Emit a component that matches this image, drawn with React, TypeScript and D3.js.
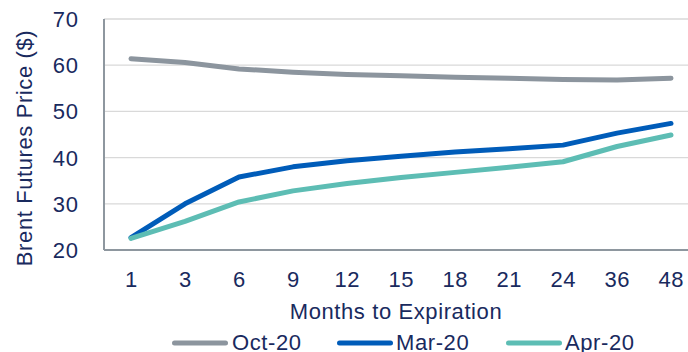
import React from "react";
import * as d3 from "d3";

const categories = ["1", "3", "6", "9", "12", "15", "18", "21", "24", "36", "48"];
const oct20 = [61.4, 60.6, 59.2, 58.5, 58.0, 57.7, 57.4, 57.2, 56.9, 56.8, 57.2];
const mar20 = [22.7, 30.0, 35.8, 38.0, 39.3, 40.3, 41.2, 41.9, 42.7, 45.3, 47.4];
const apr20 = [22.5, 26.2, 30.4, 32.8, 34.4, 35.7, 36.8, 37.9, 39.1, 42.4, 44.9];
const yTicks = [20, 30, 40, 50, 60, 70];
const seriesNames = ["Oct-20", "Mar-20", "Apr-20"];
const seriesColors = ["#8C959E", "#005CB9", "#5DBDB4"];

const W = 688;
const H = 352;
const left = 104;
const top = 19;
const bottom = 250;
const right = 698;
const textColor = "#192A5E";
const font = "'Liberation Sans', Arial, sans-serif";
const fs = 22;
const ls = 0.6;

export default function App() {
  const x = d3.scaleBand<string>().domain(categories).range([left, right]);
  const y = d3.scaleLinear().domain([20, 70]).range([bottom, top]);
  const series = [oct20, mar20, apr20];
  const line = d3
    .line<number>()
    .x((_, i) => (x(categories[i]) as number) + x.bandwidth() / 2)
    .y((d) => y(d));

  const legendX = [172, 337, 506];
  const legendText = [232, 396, 565];

  return (
    <svg
      width={W}
      height={H}
      style={{ position: "absolute", left: 0, top: 0, display: "block" }}
      fontFamily={font}
      letterSpacing={ls}
    >
      <rect width={W} height={H} fill="#fff" />
      {yTicks.slice(1).map((t) => (
        <line key={t} x1={left} x2={right} y1={y(t)} y2={y(t)} stroke="#D9D9D9" strokeWidth={1.3} />
      ))}
      <line x1={left} x2={left} y1={top} y2={bottom} stroke="#8E979F" strokeWidth={2} />
      <line x1={left} x2={right} y1={bottom} y2={bottom} stroke="#8E979F" strokeWidth={2} />
      {yTicks.map((t) => (
        <text
          key={t}
          x={78.5}
          y={y(t) + 0.5}
          textAnchor="end"
          dominantBaseline="central"
          fontSize={fs}
          fill={textColor}
        >
          {t}
        </text>
      ))}
      {categories.map((c) => (
        <text
          key={c}
          x={(x(c) as number) + x.bandwidth() / 2 + ls / 2}
          y={279.5}
          textAnchor="middle"
          dominantBaseline="central"
          fontSize={fs}
          fill={textColor}
        >
          {c}
        </text>
      ))}
      <text
        x={396}
        y={311}
        textAnchor="middle"
        dominantBaseline="central"
        fontSize={fs}
        fill={textColor}
      >
        Months to Expiration
      </text>
      <text
        transform={`translate(24, 148) rotate(-90)`}
        textAnchor="middle"
        dominantBaseline="central"
        fontSize={fs}
        fill={textColor}
      >
        Brent Futures Price ($)
      </text>
      {series.map((s, i) => (
        <path
          key={i}
          d={line(s) as string}
          fill="none"
          stroke={seriesColors[i]}
          strokeWidth={5}
          strokeLinecap="round"
          strokeLinejoin="round"
        />
      ))}
      {seriesNames.map((n, i) => (
        <g key={n}>
          <line
            x1={legendX[i] + 2.5}
            x2={legendX[i] + 53.5}
            y1={343}
            y2={343}
            stroke={seriesColors[i]}
            strokeWidth={5}
            strokeLinecap="round"
          />
          <text
            x={legendText[i]}
            y={342}
            dominantBaseline="central"
            fontSize={fs}
            fill={textColor}
          >
            {n}
          </text>
        </g>
      ))}
    </svg>
  );
}
